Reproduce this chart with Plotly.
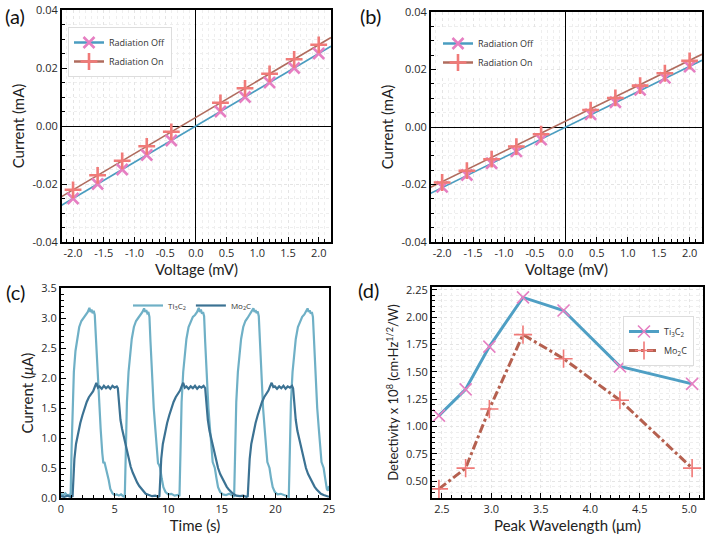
import plotly.graph_objects as go

# ---------------- data ----------------
iv_v = [-2.0, -1.6, -1.2, -0.8, -0.4, 0.4, 0.8, 1.2, 1.6, 2.0]
a_off = [-0.025, -0.020, -0.015, -0.010, -0.005, 0.005, 0.010, 0.015, 0.020, 0.025]
a_on = [-0.022, -0.017, -0.012, -0.007, -0.002, 0.008, 0.013, 0.018, 0.023, 0.028]
b_off = [-0.0208, -0.0167, -0.0126, -0.0085, -0.0044, 0.0044, 0.0086, 0.0129, 0.0171, 0.0210]
b_on = [-0.0193, -0.0152, -0.0112, -0.0068, -0.0025, 0.0059, 0.0101, 0.0144, 0.0187, 0.0230]
fit_v = [-2.2, 2.2]
a_off_fit = [-0.0275, 0.0275]
a_on_fit = [-0.0245, 0.0305]
b_off_fit = [-0.0232, 0.0232]
b_on_fit = [-0.0211, 0.0253]

t_ti = [0.0, 0.2, 0.4, 0.6, 0.8, 0.9, 1.0, 1.1, 1.2, 1.35, 1.5, 1.7, 1.9, 2.1, 2.3, 2.5, 2.65, 2.75, 2.85, 2.95, 3.05, 3.15,
        3.25, 3.4, 3.55, 3.7, 3.85, 3.95, 4.05, 4.15, 4.3, 4.45, 4.6, 4.8, 5.0, 5.2, 5.4, 5.6, 5.8, 5.95,
        6.05, 6.15, 6.3, 6.45, 6.6, 6.8, 7.0, 7.2, 7.4, 7.6, 7.75, 7.85, 7.95, 8.05, 8.15, 8.25,
        8.35, 8.5, 8.65, 8.8, 8.95, 9.05, 9.15, 9.25, 9.4, 9.55, 9.75, 10.0, 10.3, 10.6, 10.9, 11.05,
        11.15, 11.25, 11.4, 11.55, 11.7, 11.9, 12.1, 12.3, 12.5, 12.7, 12.85, 12.95, 13.05, 13.15, 13.25, 13.35,
        13.45, 13.6, 13.75, 13.9, 14.05, 14.15, 14.25, 14.35, 14.5, 14.65, 14.85, 15.1, 15.4, 15.7, 16.0, 16.15,
        16.25, 16.35, 16.5, 16.65, 16.8, 17.0, 17.2, 17.4, 17.6, 17.8, 17.95, 18.05, 18.15, 18.25, 18.35, 18.45,
        18.55, 18.7, 18.85, 19.0, 19.15, 19.25, 19.35, 19.45, 19.6, 19.75, 19.95, 20.2, 20.5, 20.8, 21.1, 21.25,
        21.35, 21.45, 21.6, 21.75, 21.9, 22.1, 22.3, 22.5, 22.7, 22.85, 23.0, 23.1, 23.2, 23.3, 23.4, 23.5,
        23.6, 23.75, 23.9, 24.05, 24.2, 24.3, 24.4, 24.5, 24.65, 24.8, 24.9, 25.0]
i_ti = [0.07, 0.05, 0.08, 0.04, 0.06, 0.05, 0.9, 1.7, 2.1, 2.45, 2.65, 2.85, 2.95, 3.0, 3.05, 3.1, 3.17, 3.1, 3.14, 3.08, 3.12, 3.05,
        2.7, 2.1, 1.6, 1.15, 0.75, 0.58, 0.6, 0.52, 0.45, 0.3, 0.15, 0.08, 0.05, 0.06, 0.04, 0.06, 0.03, 0.02,
        0.8, 1.6, 2.1, 2.4, 2.65, 2.85, 2.95, 3.0, 3.05, 3.1, 3.16, 3.1, 3.13, 3.08, 3.1, 3.02,
        2.6, 1.9, 1.5, 1.15, 0.75, 0.58, 0.55, 0.5, 0.32, 0.18, 0.1, 0.06, 0.07, 0.04, 0.05, 0.03,
        0.8, 1.6, 2.1, 2.4, 2.65, 2.85, 2.95, 3.02, 3.05, 3.1, 3.17, 3.1, 3.14, 3.07, 3.1, 3.03,
        2.6, 1.9, 1.5, 1.15, 0.75, 0.6, 0.55, 0.5, 0.33, 0.18, 0.1, 0.06, 0.05, 0.07, 0.04, 0.02,
        0.8, 1.6, 2.1, 2.4, 2.65, 2.85, 2.95, 3.0, 3.06, 3.1, 3.16, 3.1, 3.13, 3.08, 3.11, 3.03,
        2.6, 1.9, 1.5, 1.15, 0.75, 0.6, 0.55, 0.5, 0.32, 0.18, 0.1, 0.06, 0.07, 0.05, 0.04, 0.02,
        0.8, 1.6, 2.1, 2.4, 2.65, 2.85, 2.95, 3.02, 3.06, 3.1, 3.16, 3.1, 3.13, 3.07, 3.1, 3.02,
        2.6, 1.9, 1.5, 1.15, 0.75, 0.6, 0.55, 0.5, 0.32, 0.15, 0.12, 0.2]

t_mo = [0.0, 0.3, 0.6, 0.9, 1.08, 1.15, 1.25, 1.4, 1.6, 1.8, 2.0, 2.2, 2.4, 2.6, 2.8, 3.0, 3.15, 3.3, 3.45, 3.6, 3.8,
        4.0, 4.2, 4.4, 4.6, 4.8, 5.0, 5.2, 5.3, 5.4, 5.55, 5.7, 5.9, 6.1, 6.3, 6.5, 6.7, 6.9, 7.1, 7.3, 7.5, 7.7,
        7.9, 8.2, 8.5, 8.8, 9.1,
        9.18, 9.25, 9.35, 9.5, 9.7, 9.9, 10.1, 10.3, 10.5, 10.7, 10.9, 11.1, 11.25, 11.4, 11.55, 11.7, 11.9, 12.1,
        12.3, 12.5, 12.7, 12.9, 13.1, 13.3, 13.45, 13.55, 13.7, 13.85, 14.05, 14.25, 14.45, 14.65, 14.85, 15.05,
        15.25, 15.45, 15.65, 15.85, 16.05, 16.35, 16.7, 17.0, 17.3,
        17.42, 17.5, 17.6, 17.75, 17.95, 18.15, 18.35, 18.55, 18.75, 18.95, 19.15, 19.35, 19.5, 19.65, 19.8, 19.95,
        20.15, 20.35, 20.55, 20.75, 20.95, 21.15, 21.35, 21.55, 21.65, 21.75, 21.9, 22.05, 22.25, 22.45, 22.65,
        22.85, 23.05, 23.25, 23.45, 23.65, 23.85, 24.05, 24.25, 24.5, 24.75, 25.0]
i_mo = [0.03, 0.02, 0.04, 0.02, 0.03, 0.35, 0.65, 0.9, 1.1, 1.25, 1.38, 1.5, 1.6, 1.68, 1.73, 1.78, 1.85, 1.92, 1.84, 1.86, 1.82,
        1.87, 1.83, 1.86, 1.82, 1.87, 1.84, 1.86, 1.83, 1.55, 1.3, 1.15, 1.0, 0.8, 0.65, 0.52, 0.42, 0.33, 0.26, 0.2, 0.15, 0.1,
        0.07, 0.05, 0.03, 0.04, 0.02,
        0.03, 0.35, 0.65, 0.9, 1.1, 1.25, 1.38, 1.5, 1.6, 1.68, 1.74, 1.79, 1.86, 1.92, 1.84, 1.86, 1.82, 1.86,
        1.83, 1.87, 1.82, 1.86, 1.84, 1.87, 1.83, 1.55, 1.3, 1.12, 0.95, 0.78, 0.63, 0.5, 0.4, 0.32,
        0.25, 0.19, 0.14, 0.1, 0.07, 0.04, 0.03, 0.04, 0.02,
        0.03, 0.35, 0.65, 0.9, 1.1, 1.25, 1.38, 1.5, 1.6, 1.68, 1.74, 1.79, 1.86, 1.92, 1.85, 1.86,
        1.82, 1.86, 1.83, 1.87, 1.82, 1.86, 1.84, 1.87, 1.83, 1.55, 1.3, 1.12, 0.95, 0.78, 0.63,
        0.5, 0.4, 0.32, 0.25, 0.19, 0.14, 0.1, 0.07, 0.05, 0.04, 0.02]

wl = [2.47, 2.74, 2.98, 3.32, 3.73, 4.30, 5.03]
det_ti = [1.10, 1.34, 1.73, 2.18, 2.06, 1.55, 1.39]
det_mo = [0.43, 0.62, 1.16, 1.84, 1.62, 1.24, 0.62]

iv_xticks = [-2.0, -1.5, -1.0, -0.5, 0.0, 0.5, 1.0, 1.5, 2.0]
iv_xtext = ["-2.0", "-1.5", "-1.0", "-0.5", "0.0", "0.5", "1.0", "1.5", "2.0"]
iv_yticks = [-0.04, -0.02, 0.0, 0.02, 0.04]
iv_ytext = ["-0.04", "-0.02", "0.00", "0.02", "0.04"]

# ---------------- style ----------------
C_OFF = "#4a9dc0"
C_ON = "#b06c5e"
C_X = "#e67fc2"
C_P = "#f07a78"
C_TI = "#6fb0c6"
C_MO = "#3b7293"
TICKFONT = dict(family="Open Sans, DejaVu Sans, sans-serif", size=11, color="#2a2a2a")
TITLEFONT = dict(family="Lato, Open Sans, sans-serif", size=15, color="#222222")

fig = go.Figure()

def iv_traces(xa, ya, leg, off, on, off_fit, on_fit):
    fig.add_trace(go.Scatter(x=fit_v, y=off_fit, mode="lines", line=dict(color=C_OFF, width=1.6),
                             xaxis=xa, yaxis=ya, showlegend=False, hoverinfo="skip"))
    fig.add_trace(go.Scatter(x=fit_v, y=on_fit, mode="lines", line=dict(color=C_ON, width=1.6),
                             xaxis=xa, yaxis=ya, showlegend=False, hoverinfo="skip"))
    fig.add_trace(go.Scatter(x=iv_v, y=off, mode="markers", name="Radiation Off",
                             marker=dict(symbol="x-thin", size=11, line=dict(width=2.6, color=C_X)),
                             xaxis=xa, yaxis=ya, showlegend=False))
    fig.add_trace(go.Scatter(x=iv_v, y=on, mode="markers", name="Radiation On",
                             marker=dict(symbol="cross-thin", size=12, line=dict(width=2.6, color=C_P)),
                             xaxis=xa, yaxis=ya, showlegend=False))
    fig.add_trace(go.Scatter(x=[None], y=[None], mode="lines+markers", name="Radiation Off",
                             line=dict(color=C_OFF, width=2.5),
                             marker=dict(symbol="x-thin", size=11, line=dict(width=2.6, color=C_X)),
                             xaxis=xa, yaxis=ya, legend=leg))
    fig.add_trace(go.Scatter(x=[None], y=[None], mode="lines+markers", name="Radiation On",
                             line=dict(color=C_ON, width=2.5),
                             marker=dict(symbol="cross-thin", size=12, line=dict(width=2.6, color=C_P)),
                             xaxis=xa, yaxis=ya, legend=leg))

iv_traces("x", "y", "legend", a_off, a_on, a_off_fit, a_on_fit)
iv_traces("x2", "y2", "legend2", b_off, b_on, b_off_fit, b_on_fit)

fig.add_trace(go.Scatter(x=t_ti, y=i_ti, mode="lines", name="Ti<sub>3</sub>C<sub>2</sub>",
                         line=dict(color=C_TI, width=2.2), xaxis="x3", yaxis="y3", legend="legend3"))
fig.add_trace(go.Scatter(x=t_mo, y=i_mo, mode="lines", name="Mo<sub>2</sub>C",
                         line=dict(color=C_MO, width=2.2), xaxis="x3", yaxis="y3", legend="legend3"))

fig.add_trace(go.Scatter(x=wl, y=det_ti, mode="lines+markers", name="Ti<sub>3</sub>C<sub>2</sub>",
                         line=dict(color="#4f9fc4", width=3),
                         marker=dict(symbol="x-thin", size=12, line=dict(width=1.6, color=C_X)),
                         xaxis="x4", yaxis="y4", legend="legend4"))
fig.add_trace(go.Scatter(x=wl, y=det_mo, mode="lines+markers", name="Mo<sub>2</sub>C",
                         line=dict(color="#b5604f", width=3, dash="dashdot"),
                         marker=dict(symbol="cross-thin", size=13, line=dict(width=1.6, color=C_P)),
                         xaxis="x4", yaxis="y4", legend="legend4"))

W, H = 709, 537
def dx(a, b):
    return [a / W, b / W]
def dy(top, bot):
    return [1 - bot / H, 1 - top / H]

def ax(domain, anchor, rng, **kw):
    d = dict(domain=domain, anchor=anchor, range=rng, showline=True, linecolor="black", linewidth=2,
             mirror=True, ticks="inside", ticklen=5, tickwidth=1.2, tickcolor="black", automargin=False,
             tickfont=TICKFONT, title_font=TITLEFONT, zeroline=False, showgrid=False)
    d.update(kw)
    return d

grid_major = dict(showgrid=True, gridcolor="#e4e4e4", griddash="dot", gridwidth=1)

fig.update_layout(
    template="none",
    width=W, height=H, margin=dict(l=0, r=0, t=0, b=0, autoexpand=False),
    paper_bgcolor="white", plot_bgcolor="white",
    xaxis=ax(dx(62, 331), "y", [-2.18, 2.2], tickvals=iv_xticks, ticktext=iv_xtext,
             title=dict(text="Voltage (mV)", standoff=2), zeroline=True, zerolinecolor="black", zerolinewidth=1,
             minor=dict(dtick=0.1, ticks="inside", ticklen=3, tickcolor="black", showgrid=True,
                        gridcolor="#eeeeee", griddash="dot"), **grid_major),
    yaxis=ax(dy(10, 242), "x", [-0.04, 0.04], tickvals=iv_yticks, ticktext=iv_ytext,
             title=dict(text="Current (mA)", standoff=4), zeroline=True, zerolinecolor="black", zerolinewidth=1,
             minor=dict(dtick=0.005, ticks="inside", ticklen=3, tickcolor="black", showgrid=True,
                        gridcolor="#eeeeee", griddash="dot"), **grid_major),
    xaxis2=ax(dx(431, 702), "y2", [-2.18, 2.2], tickvals=iv_xticks, ticktext=iv_xtext,
              title=dict(text="Voltage (mV)", standoff=2), zeroline=True, zerolinecolor="black", zerolinewidth=1,
              minor=dict(dtick=0.1, ticks="inside", ticklen=3, tickcolor="black", showgrid=True,
                         gridcolor="#eeeeee", griddash="dot"), **grid_major),
    yaxis2=ax(dy(12, 242), "x2", [-0.04, 0.04], tickvals=iv_yticks, ticktext=iv_ytext,
              title=dict(text="Current (mA)", standoff=4), zeroline=True, zerolinecolor="black", zerolinewidth=1,
              minor=dict(dtick=0.005, ticks="inside", ticklen=3, tickcolor="black", showgrid=True,
                         gridcolor="#eeeeee", griddash="dot"), **grid_major),
    xaxis3=ax(dx(61, 329), "y3", [0, 25], dtick=5, title=dict(text="Time (s)", standoff=2),
              minor=dict(dtick=1, ticks="inside", ticklen=3, tickcolor="black")),
    yaxis3=ax(dy(288, 498), "x3", [0, 3.5], dtick=0.5, tickformat=".1f",
              title=dict(text="Current (<i>μ</i>A)", standoff=4),
              minor=dict(dtick=0.1, ticks="inside", ticklen=3, tickcolor="black")),
    xaxis4=ax(dx(432, 703), "y4", [2.4, 5.14], dtick=0.5, tickformat=".1f",
              title=dict(text="Peak Wavelength (μm)", standoff=2),
              minor=dict(dtick=0.1, ticks="inside", ticklen=3, tickcolor="black", showgrid=True,
                         gridcolor="#eeeeee", griddash="dot"), **grid_major),
    yaxis4=ax(dy(287, 498), "x4", [0.347, 2.275], dtick=0.25, tick0=0, tickformat=".2f",
              title=dict(text="Detectivity x 10<sup>8</sup> (cm·Hz<sup>1/2</sup>/W)", standoff=4,
                         font=dict(family="Lato, Open Sans, sans-serif", size=13, color="#222222")),
              minor=dict(dtick=0.05, ticks="inside", ticklen=3, tickcolor="black", showgrid=True,
                         gridcolor="#eeeeee", griddash="dot"), **grid_major),
    legend=dict(x=68 / W, y=1 - 27 / H, xanchor="left", yanchor="top", bgcolor="white",
                bordercolor="#dddddd", borderwidth=1, tracegroupgap=0,
                font=dict(family="Open Sans, sans-serif", size=9, color="#333")),
    legend2=dict(x=438 / W, y=1 - 29 / H, xanchor="left", yanchor="top", bgcolor="white",
                 bordercolor="#dddddd", borderwidth=0,
                 font=dict(family="Open Sans, sans-serif", size=9, color="#333")),
    legend3=dict(x=128 / W, y=1 - 291 / H, xanchor="left", yanchor="top", orientation="h", bgcolor="rgba(0,0,0,0)",
                 font=dict(family="Open Sans, sans-serif", size=8, color="#333")),
    legend4=dict(x=623 / W, y=1 - 316 / H, xanchor="left", yanchor="top", bgcolor="white",
                 bordercolor="#dddddd", borderwidth=1,
                 font=dict(family="Open Sans, sans-serif", size=9, color="#333")),
)

for txt, px, py in [("(a)", 3, 16), ("(b)", 358, 16), ("(c)", 4, 292), ("(d)", 356, 290)]:
    fig.add_annotation(text=txt, x=px / W, y=1 - py / H, xref="paper", yref="paper", xanchor="left",
                       yanchor="middle", showarrow=False,
                       font=dict(family="Lato, Open Sans, sans-serif", size=20, color="#111"))

fig.write_html("out.html", config={"displayModeBar": False},
               post_script="document.body.style.margin='0';document.body.style.overflow='hidden';")
